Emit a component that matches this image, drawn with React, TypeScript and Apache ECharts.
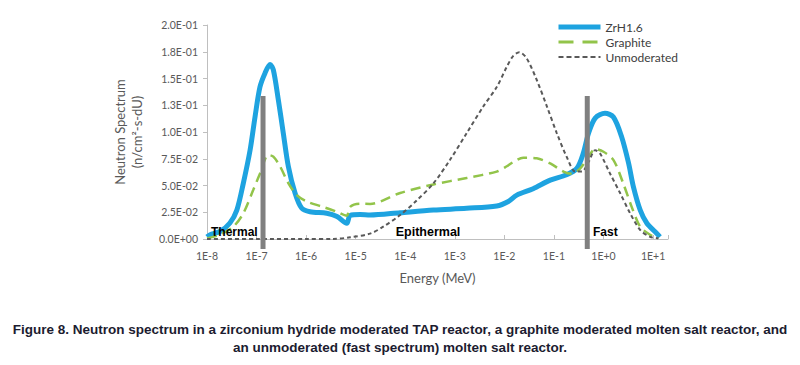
import React, { useEffect, useRef } from "react";
import * as echarts from "echarts";

// Energy (MeV) / spectrum values
const zrhEnergy = [1e-8, 1.15e-8, 1.83e-8, 2.9e-8, 4.0e-8, 5.4e-8, 7.4e-8, 9.3e-8, 1.17e-7, 1.48e-7, 1.87e-7, 2.18e-7, 2.75e-7, 3.46e-7, 4.37e-7, 5.97e-7, 8.1e-7, 1.2e-6, 2.6e-6, 4.2e-6, 6.6e-6, 7.7e-6, 1.23e-5, 1.95e-5, 7.9e-5, 3.7e-4, 1.73e-3, 7.0e-3, 1.2e-2, 1.78e-2, 3.8e-2, 8.4e-2, 0.18, 0.29, 0.39, 0.5, 0.68, 1.07, 1.58, 2.3, 3.2, 4.0, 5.5, 7.5, 11, 13.8];
const zrhFlux = [0.002, 0.004, 0.007, 0.015, 0.027, 0.052, 0.083, 0.114, 0.142, 0.155, 0.163, 0.158, 0.13, 0.099, 0.068, 0.043, 0.029, 0.0255, 0.024, 0.021, 0.0147, 0.022, 0.0228, 0.0224, 0.0246, 0.027, 0.0287, 0.0308, 0.035, 0.041, 0.047, 0.055, 0.06, 0.066, 0.08, 0.099, 0.113, 0.1175, 0.114, 0.096, 0.071, 0.049, 0.027, 0.0147, 0.0068, 0.002];

const graphiteEnergy = [1e-8, 1.83e-8, 3.4e-8, 5.4e-8, 8.6e-8, 1.17e-7, 1.73e-7, 2.18e-7, 2.97e-7, 4.4e-7, 6.5e-7, 1.03e-6, 2.2e-6, 4.15e-6, 6.6e-6, 7.7e-6, 1.22e-5, 1.95e-5, 7.9e-5, 3.7e-4, 1.74e-3, 7.0e-3, 1.12e-2, 1.52e-2, 2.4e-2, 4.5e-2, 8.4e-2, 0.155, 0.23, 0.34, 0.5, 0.68, 1.0, 1.58, 2.5, 3.7, 5.5, 8.7, 12.8];
const graphiteFlux = [0.0006, 0.004, 0.0115, 0.024, 0.046, 0.061, 0.0785, 0.077, 0.068, 0.052, 0.041, 0.035, 0.03, 0.0255, 0.0218, 0.03, 0.033, 0.0328, 0.043, 0.051, 0.057, 0.063, 0.068, 0.072, 0.076, 0.0754, 0.0707, 0.063, 0.061, 0.066, 0.077, 0.084, 0.0815, 0.074, 0.052, 0.03, 0.0115, 0.004, 0.0006];

const unmodEnergy = [1e-8, 1e-7, 1e-6, 3.5e-6, 7.7e-6, 1.95e-5, 3.6e-5, 7.9e-5, 1.7e-4, 3.7e-4, 8.0e-4, 1.74e-3, 3.77e-3, 7.0e-3, 1.12e-2, 1.5e-2, 2.0e-2, 2.8e-2, 4.5e-2, 7.2e-2, 0.114, 0.18, 0.27, 0.365, 0.5, 0.68, 0.85, 1.36, 2.16, 3.44, 5.5, 8.7, 12.8];
const unmodFlux = [0, 0, 0, 0, 0.0016, 0.005, 0.0115, 0.0224, 0.036, 0.052, 0.074, 0.099, 0.124, 0.142, 0.161, 0.171, 0.1745, 0.169, 0.1486, 0.124, 0.099, 0.077, 0.063, 0.063, 0.072, 0.083, 0.08, 0.061, 0.043, 0.024, 0.0084, 0.002, 0.0006];

// Region boundary markers (energy, top value, bottom value)
const thermalBoundary = [[1.35e-7, 0.1336], [1.35e-7, -0.0093]];
const fastBoundary = [[0.47, 0.1336], [0.47, -0.0093]];

const seriesNames = ["ZrH1.6", "Graphite", "Unmoderated"];
const regionLabels = ["Thermal", "Epithermal", "Fast"];
const captionLines = [
  "Figure 8. Neutron spectrum in a zirconium hydride moderated TAP reactor, a graphite moderated molten salt reactor, and",
  "an unmoderated (fast spectrum) molten salt reactor.",
];

const pair = (xs: number[], ys: number[]) => xs.map((x, i) => [x, ys[i]]);

const fmtY = (v: number) => {
  if (Math.abs(v) < 1e-12) return "0.0E+00";
  let e = Math.floor(Math.log10(v) + 1e-9);
  let m = Math.round((v / Math.pow(10, e)) * 10 + 1e-6) / 10;
  if (m >= 10) {
    m /= 10;
    e += 1;
  }
  const sign = e < 0 ? "-" : "+";
  const ae = Math.abs(e);
  return m.toFixed(1) + "E" + sign + (ae < 10 ? "0" + ae : String(ae));
};

const fmtX = (v: number) => {
  const l = Math.log10(v);
  const e = Math.round(l);
  if (Math.abs(l - e) > 1e-6) return "";
  return "1E" + (e >= 0 ? "+" : "") + e;
};

export default function App() {
  const ref = useRef<HTMLDivElement>(null);
  useEffect(() => {
    if (!ref.current) return;
    const chart = echarts.init(ref.current, undefined, { renderer: "svg" });
    const labelFont = "Lato, 'Open Sans', sans-serif";
    const boldFont = "'Liberation Sans', Arial, sans-serif";
    chart.setOption({
      animation: false,
      backgroundColor: "#ffffff",
      grid: { left: 207, right: 132, top: 25, bottom: 126 },
      legend: {
        data: [
          { name: seriesNames[0], itemStyle: { opacity: 0 }, lineStyle: { width: 5, color: "#1ea3e0" } },
          { name: seriesNames[1], itemStyle: { opacity: 0 }, lineStyle: { width: 3, color: "#92c44a", type: [15, 9] } },
          { name: seriesNames[2], itemStyle: { opacity: 0 }, lineStyle: { width: 2, color: "#595959", type: [5, 3] } },
        ],
        orient: "vertical",
        left: 551,
        top: 16,
        itemWidth: 42,
        itemHeight: 12,
        itemGap: 3,
        textStyle: { fontFamily: labelFont, fontSize: 12, color: "#404040" },
      },
      xAxis: {
        type: "log",
        logBase: 10,
        min: 1e-8,
        max: 20,
        name: "Energy (MeV)",
        nameLocation: "middle",
        nameGap: 32,
        nameTextStyle: { fontFamily: labelFont, fontSize: 13, color: "#595959" },
        axisLine: { lineStyle: { color: "#bfbfbf", width: 1 } },
        axisTick: { inside: true, length: 4, lineStyle: { color: "#bfbfbf" } },
        axisLabel: { formatter: fmtX, fontFamily: labelFont, fontSize: 10.5, color: "#595959", margin: 11 },
        splitLine: { show: false },
        minorTick: { show: false },
      },
      yAxis: {
        type: "value",
        min: 0,
        max: 0.2,
        interval: 0.025,
        axisLine: { show: true, lineStyle: { color: "#bfbfbf", width: 1 } },
        axisTick: { show: true, length: 4, lineStyle: { color: "#bfbfbf" } },
        axisLabel: { formatter: fmtY, fontFamily: labelFont, fontSize: 10.5, color: "#595959", margin: 9 },
        splitLine: { show: false },
      },
      series: [
        {
          name: seriesNames[0],
          type: "line",
          data: pair(zrhEnergy, zrhFlux),
          symbol: "none",
          smooth: 0.3,
          lineStyle: { color: "#1ea3e0", width: 5 },
          itemStyle: { color: "#1ea3e0" },
          z: 3,
        },
        {
          name: seriesNames[1],
          type: "line",
          data: pair(graphiteEnergy, graphiteFlux),
          symbol: "none",
          smooth: 0.3,
          lineStyle: { color: "#92c44a", width: 2.5, type: [10, 6] },
          itemStyle: { color: "#92c44a" },
          z: 4,
        },
        {
          name: seriesNames[2],
          type: "line",
          data: pair(unmodEnergy, unmodFlux),
          symbol: "none",
          smooth: 0.3,
          lineStyle: { color: "#595959", width: 2, type: [4, 3] },
          itemStyle: { color: "#595959" },
          z: 5,
        },
        {
          name: "thermalBoundary",
          type: "line",
          data: thermalBoundary,
          symbol: "none",
          clip: false,
          silent: true,
          lineStyle: { color: "#808080", width: 5 },
          z: 6,
        },
        {
          name: "fastBoundary",
          type: "line",
          data: fastBoundary,
          symbol: "none",
          clip: false,
          silent: true,
          lineStyle: { color: "#808080", width: 5 },
          z: 6,
        },
      ],
      graphic: [
        {
          type: "text",
          x: 120,
          y: 132,
          rotation: Math.PI / 2,
          style: { text: "Neutron Spectrum", font: "13px " + labelFont, fill: "#595959", align: "center", verticalAlign: "middle" },
        },
        {
          type: "text",
          x: 137,
          y: 132,
          rotation: Math.PI / 2,
          style: { text: "(n/cm²-s-dU)", font: "13px " + labelFont, fill: "#595959", align: "center", verticalAlign: "middle" },
        },
        {
          type: "text",
          x: 211,
          y: 232,
          z: 100,
          style: { text: regionLabels[0], font: "bold 12px " + boldFont, fill: "#000000", align: "left", verticalAlign: "middle" },
        },
        {
          type: "text",
          x: 428,
          y: 232,
          z: 100,
          style: { text: regionLabels[1], font: "bold 12.5px " + boldFont, fill: "#000000", align: "center", verticalAlign: "middle" },
        },
        {
          type: "text",
          x: 593,
          y: 232,
          z: 100,
          style: { text: regionLabels[2], font: "bold 12px " + boldFont, fill: "#000000", align: "left", verticalAlign: "middle" },
        },
        {
          type: "text",
          x: 400,
          y: 329,
          style: { text: captionLines[0], font: "bold 13.5px " + boldFont, fill: "#1c1c30", align: "center", verticalAlign: "middle" },
        },
        {
          type: "text",
          x: 400,
          y: 347,
          style: { text: captionLines[1], font: "bold 13.5px " + boldFont, fill: "#1c1c30", align: "center", verticalAlign: "middle" },
        },
      ],
    });
    return () => chart.dispose();
  }, []);
  return (
    <div
      ref={ref}
      style={{ position: "absolute", left: 0, top: 0, width: 800, height: 365, background: "#fff" }}
    />
  );
}
